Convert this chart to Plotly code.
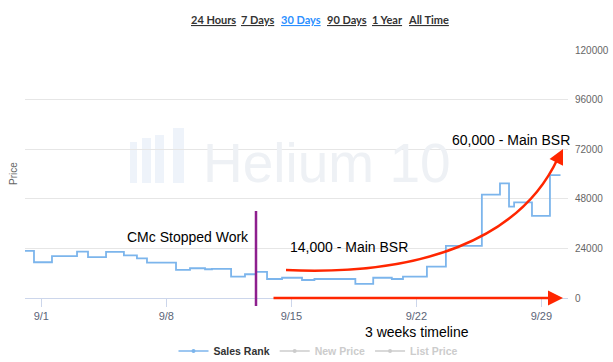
import plotly.graph_objects as go

# ---------------- data ----------------
step_times = ["2019-08-31 02:05", "2019-08-31 14:10", "2019-09-01 14:20", "2019-09-03 00:00",
              "2019-09-03 14:45", "2019-09-04 15:00", "2019-09-05 15:00", "2019-09-06 08:30",
              "2019-09-06 22:00", "2019-09-08 13:00", "2019-09-09 07:50", "2019-09-10 04:00",
              "2019-09-10 13:20", "2019-09-11 15:00", "2019-09-12 09:40", "2019-09-13 00:30",
              "2019-09-13 15:20", "2019-09-14 11:30", "2019-09-15 14:20", "2019-09-16 07:00",
              "2019-09-18 14:00", "2019-09-19 14:00", "2019-09-20 15:00", "2019-09-21 06:00",
              "2019-09-22 14:10", "2019-09-23 15:40", "2019-09-25 16:00", "2019-09-26 16:20",
              "2019-09-27 04:30", "2019-09-27 11:20", "2019-09-28 11:20", "2019-09-29 11:30",
              "2019-09-30 01:40"]
sales_rank = [22800, 17300, 20300, 22400, 19800, 22300, 20600, 19200,
              17100, 13600, 14400, 13900, 14100, 10300, 11500, 12600,
              9200, 9800, 8700, 9200, 6800, 9800, 9200, 10300,
              15200, 25200, 50000, 55500, 44200, 46300, 39700, 59500,
              59500]

x_tick_vals = ["2019-09-01", "2019-09-08", "2019-09-15", "2019-09-22", "2019-09-29"]
x_tick_text = ["9/1", "9/8", "9/15", "9/22", "9/29"]
y_tick_vals = [0, 24000, 48000, 72000, 96000, 120000]
y_tick_text = ["0", "24000", "48000", "72000", "96000", "120000"]

range_buttons = ["24 Hours", "7 Days", "30 Days", "90 Days", "1 Year", "All Time"]
active_button = "30 Days"
legend_names = ["Sales Rank", "New Price", "List Price"]
stop_date = "2019-09-13 00:30"

# ---------------- layout helpers ----------------
W, H = 613, 362
L, R, T, B = 25, 568, 50, 298


def px(xp):
    return (xp - L) / (R - L)


def py(yp):
    return (B - yp) / (B - T)


FONT = "Liberation Sans, Arial, sans-serif"

fig = go.Figure()

fig.add_trace(go.Scatter(
    x=step_times, y=sales_rank, mode="lines", line=dict(color="#7cb5ec", width=1.8, shape="hv"),
    showlegend=False, hoverinfo="x+y"))

# legend entries
fig.add_trace(go.Scatter(x=[None], y=[None], mode="lines+markers", name="<b>" + legend_names[0] + "</b>",
                         line=dict(color="#7cb5ec", width=1.7), marker=dict(size=4, color="#7cb5ec")))
for nm in legend_names[1:]:
    fig.add_trace(go.Scatter(x=[None], y=[None], mode="lines+markers",
                             name="<b><span style='color:#cccccc'>" + nm + "</span></b>",
                             line=dict(color="#cccccc", width=1.7), marker=dict(size=4, color="#cccccc")))

shapes = []
annotations = []

# watermark icon bars
for (x0, x1, y0) in [(130, 137, 142), (142, 151, 138), (155, 164, 135), (173, 184, 128)]:
    shapes.append(dict(type="rect", xref="paper", yref="paper", x0=px(x0), x1=px(x1), y0=py(183), y1=py(y0),
                       fillcolor="#eef3fa", line=dict(width=0), layer="below"))
annotations.append(dict(text="Helium 10", xref="paper", yref="paper", x=px(327), y=py(163),
                        xanchor="center", yanchor="middle", showarrow=False,
                        font=dict(family=FONT, size=55, color="#eef1f5")))

# purple vertical line
shapes.append(dict(type="line", xref="x", yref="paper", x0=stop_date, x1=stop_date, y0=py(211), y1=py(306),
                   line=dict(color="#8e1f8e", width=2.5)))

# red curved path
pts = [(286, 270), (420, 276), (520, 240), (558, 158)]
path = "M {},{} C {},{} {},{} {},{}".format(*sum([[px(a), py(b)] for a, b in pts], []))
shapes.append(dict(type="path", xref="paper", yref="paper", path=path,
                   line=dict(color="#ff2600", width=2.5)))
annotations.append(dict(x=px(563), y=py(149), xref="paper", yref="paper", ax=-6, ay=12,
                        axref="pixel", ayref="pixel", text="", showarrow=True, arrowhead=2,
                        arrowsize=1.2, arrowwidth=2.5, arrowcolor="#ff2600"))
# horizontal red arrow
annotations.append(dict(x=px(563), y=py(298), xref="paper", yref="paper", ax=-291, ay=0,
                        axref="pixel", ayref="pixel", text="", showarrow=True, arrowhead=2,
                        arrowsize=1.2, arrowwidth=2.5, arrowcolor="#ff2600"))

# text annotations
for txt, cx, cy in [("CMc Stopped Work", 188, 237), ("14,000 - Main BSR", 349, 247),
                    ("60,000 - Main BSR", 511, 140), ("3 weeks timeline", 417, 332)]:
    annotations.append(dict(text=txt, xref="paper", yref="paper", x=px(cx), y=py(cy),
                            xanchor="center", yanchor="middle", showarrow=False,
                            font=dict(family=FONT, size=14, color="#000000")))

# range buttons
btn_centers = [213, 257.5, 300.5, 346.5, 387.5, 428.5]
for b, cx in zip(range_buttons, btn_centers):
    annotations.append(dict(text="<u>" + b + "</u>", xref="paper", yref="paper", x=px(cx), y=py(19),
                            xanchor="center", yanchor="middle", showarrow=False,
                            font=dict(family="Lato, sans-serif", size=11, weight="bold",
                                      color="#2b8fff" if b == active_button else "#333333"),
                            ))

# y title on left
annotations.append(dict(text="Price", xref="paper", yref="paper", x=px(13), y=0.5, textangle=-90,
                        xanchor="center", yanchor="middle", showarrow=False,
                        font=dict(family=FONT, size=10, color="#666666")))

fig.update_layout(
    width=W, height=H, margin=dict(l=L, r=W - R, t=T, b=H - B, autoexpand=False),
    paper_bgcolor="white", plot_bgcolor="white",
    font=dict(family=FONT, size=11, color="#333333"),
    shapes=shapes, annotations=annotations,
    legend=dict(orientation="h", x=px(318), xanchor="center", y=py(351), yanchor="middle",
                font=dict(family=FONT, size=10.5, color="#333333"), itemwidth=30, tracegroupgap=0),
    xaxis=dict(type="date", range=["2019-08-31 02:05", "2019-09-30 11:45"],
               tickvals=x_tick_vals, ticktext=x_tick_text, showgrid=False,
               showline=True, linecolor="#ccd6eb", linewidth=1, ticks="outside", ticklen=8,
               tickcolor="#ccd6eb", tickfont=dict(family=FONT, size=11, color="#5b6577"), zeroline=False),
    yaxis=dict(side="right", range=[0, 120000], tickvals=y_tick_vals, ticktext=y_tick_text,
               showgrid=True, gridcolor="#e6e6e6", gridwidth=1, zeroline=False, showline=False,
               ticks="", ticklabelstandoff=6, tickfont=dict(family=FONT, size=10, color="#666666")),
)

fig.write_html("out.html", config={"displayModeBar": False},
               post_script="document.body.style.margin='0';document.body.style.overflow='hidden';")
